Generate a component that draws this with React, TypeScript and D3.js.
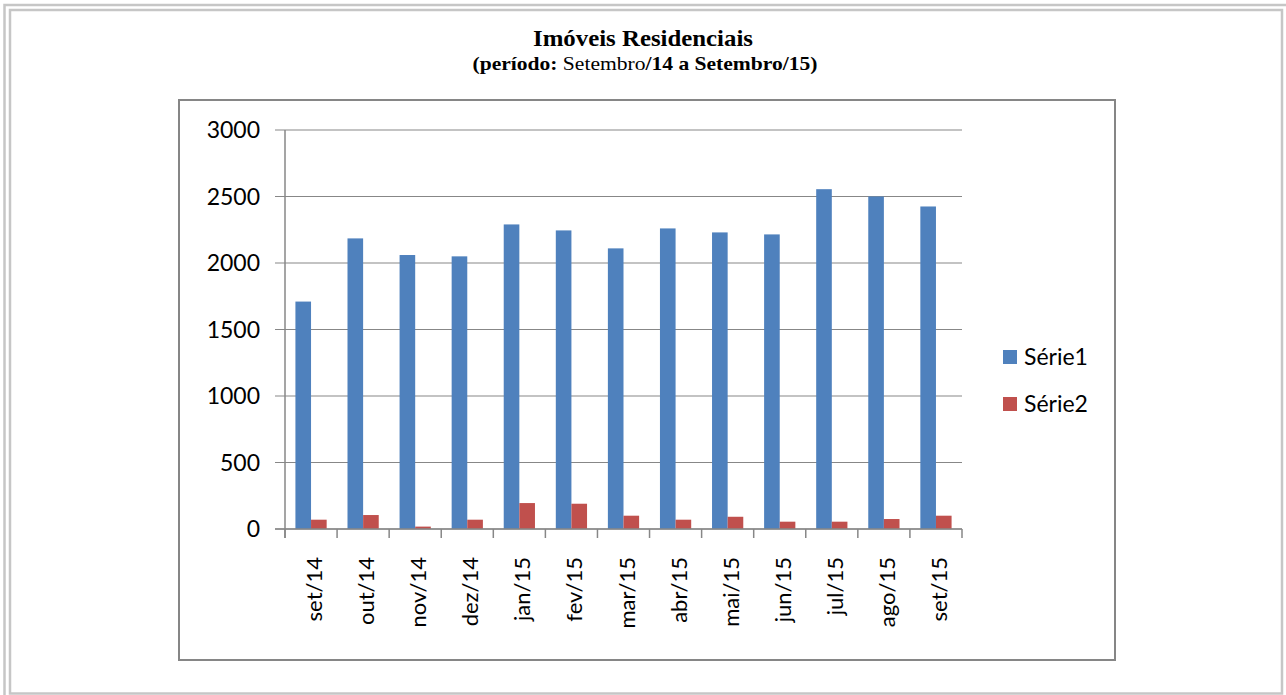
import { useEffect, useRef } from "react";
import * as d3 from "d3";

const months = ["set/14", "out/14", "nov/14", "dez/14", "jan/15", "fev/15", "mar/15", "abr/15", "mai/15", "jun/15", "jul/15", "ago/15", "set/15"];
const serie1 = [1710, 2185, 2060, 2050, 2290, 2245, 2110, 2260, 2230, 2215, 2555, 2500, 2425];
const serie2 = [70, 105, 18, 70, 195, 190, 100, 70, 92, 55, 55, 75, 100];
const seriesNames = ["Série1", "Série2"];
const seriesColors = ["#4F81BD", "#C0504D"];
const yTicks = [0, 500, 1000, 1500, 2000, 2500, 3000];

const W = 1286;
const H = 695;
const axisFont = "Lato, 'Open Sans', sans-serif";
const serif = "'Liberation Serif', 'Times New Roman', serif";

const App = () => {
  const svgRef = useRef<SVGSVGElement>(null);

  useEffect(() => {
    const svg = d3.select(svgRef.current);
    svg.selectAll("*").remove();

    svg.append("rect").attr("width", W).attr("height", H).attr("fill", "#fff");

    // outer frame (double light gray line)
    const frame = svg.append("g").attr("fill", "none").attr("stroke", "#c6c6c6").attr("stroke-width", 2.5);
    frame.append("path").attr("d", `M4.5,${H} V5 H${W}`);
    frame.append("rect").attr("x", 10).attr("y", 10).attr("width", 1272).attr("height", 683.5);

    // titles
    svg.append("text")
      .attr("x", 643).attr("y", 46)
      .attr("text-anchor", "middle")
      .attr("font-family", serif)
      .attr("font-weight", "bold")
      .attr("font-size", 24)
      .attr("textLength", 220)
      .attr("lengthAdjust", "spacingAndGlyphs")
      .text("Imóveis Residenciais");

    const sub = svg.append("text")
      .attr("x", 645).attr("y", 70)
      .attr("text-anchor", "middle")
      .attr("font-family", serif)
      .attr("font-size", 19)
      .attr("textLength", 345)
      .attr("lengthAdjust", "spacingAndGlyphs");
    sub.append("tspan").attr("font-weight", "bold").text("(período: ");
    sub.append("tspan").text("Setembro");
    sub.append("tspan").attr("font-weight", "bold").text("/14 a Setembro/15)");

    // chart frame
    svg.append("rect")
      .attr("x", 179).attr("y", 100).attr("width", 936).attr("height", 560)
      .attr("fill", "#fff").attr("stroke", "#868686").attr("stroke-width", 2);

    const x = d3.scaleBand().domain(months).range([285, 962]);
    const xs = d3.scaleBand().domain(seriesNames).range([0, x.bandwidth()]).paddingOuter(0.667);
    const y = d3.scaleLinear().domain([0, 3000]).range([529, 130]);

    // gridlines + y ticks
    svg.append("g").selectAll("line").data(yTicks).join("line")
      .attr("x1", 275).attr("x2", 962)
      .attr("y1", (d) => y(d)).attr("y2", (d) => y(d))
      .attr("stroke", "#878787").attr("stroke-width", 1.2);

    svg.append("g").selectAll("text").data(yTicks).join("text")
      .attr("x", 260).attr("y", (d) => y(d)).attr("dy", "0.36em")
      .attr("text-anchor", "end")
      .attr("font-family", axisFont).attr("font-size", 23).attr("fill", "#000")
      .text((d) => d);

    // bars
    const data = months.map((m, i) => ({ m, vals: [serie1[i], serie2[i]] }));
    const groups = svg.append("g").selectAll("g").data(data).join("g")
      .attr("transform", (d) => `translate(${x(d.m)},0)`);
    groups.selectAll("rect").data((d) => d.vals.map((v, j) => ({ v, s: seriesNames[j], c: seriesColors[j] }))).join("rect")
      .attr("x", (d) => xs(d.s)!)
      .attr("width", xs.bandwidth())
      .attr("y", (d) => y(d.v))
      .attr("height", (d) => y(0) - y(d.v))
      .attr("fill", (d) => d.c);

    // axes lines
    svg.append("line").attr("x1", 285).attr("x2", 285).attr("y1", 130).attr("y2", 538)
      .attr("stroke", "#878787").attr("stroke-width", 1.5);
    svg.append("line").attr("x1", 275).attr("x2", 962).attr("y1", 529).attr("y2", 529)
      .attr("stroke", "#878787").attr("stroke-width", 1.5);
    const bounds = months.map((m) => x(m)!).concat([962]);
    svg.append("g").selectAll("line").data(bounds).join("line")
      .attr("x1", (d) => d).attr("x2", (d) => d).attr("y1", 529).attr("y2", 538)
      .attr("stroke", "#878787").attr("stroke-width", 1.5);

    // x labels
    svg.append("g").selectAll("text").data(months).join("text")
      .attr("transform", (d) => `translate(${x(d)! + x.bandwidth() / 2 + 11},557) rotate(-90)`)
      .attr("text-anchor", "end")
      .attr("font-family", axisFont).attr("font-size", 22).attr("fill", "#000")
      .text((d) => d);

    // legend
    const leg = svg.append("g").selectAll("g").data(seriesNames).join("g")
      .attr("transform", (d, i) => `translate(1003,${350 + i * 47})`);
    leg.append("rect").attr("width", 14).attr("height", 14).attr("fill", (d, i) => seriesColors[i]);
    leg.append("text").attr("x", 21).attr("y", 7).attr("dy", "0.36em")
      .attr("font-family", axisFont).attr("font-size", 23).attr("fill", "#000")
      .text((d) => d);
  }, []);

  return <svg ref={svgRef} width={W} height={H} style={{ position: "absolute", left: 0, top: 0 }} />;
};

export default App;
